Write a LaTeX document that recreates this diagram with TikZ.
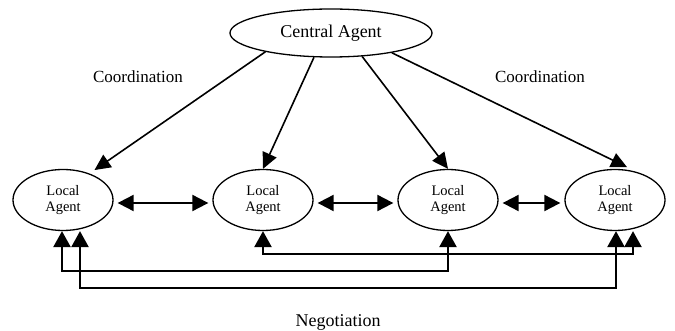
\documentclass[tikz,border=0pt]{standalone}
\usepackage{fontspec}
\setmainfont{Liberation Serif}
\usetikzlibrary{arrows.meta,shapes}
\tikzstyle{agent}=[draw=black,ellipse,line width=1.3pt,inner sep=0pt,align=center]
\tikzstyle{lbl}=[font=\fontsize{17}{19}\selectfont]

\begin{document}
\begin{tikzpicture}[x=1pt,y=-1pt,
    central/.style={agent,minimum width=202pt,minimum height=48pt,font=\fontsize{18}{20}\selectfont},
    local/.style={agent,minimum width=100pt,minimum height=61pt,font=\fontsize{14.5}{16}\selectfont},
    coord/.style={line width=1.6pt,-{Triangle[length=16pt,width=15pt]}},
    link/.style={line width=2pt,{Triangle[length=16pt,width=16pt]}-{Triangle[length=16pt,width=16pt]},shorten <=4pt,shorten >=4pt},
    nego/.style={line width=2.5pt,{Triangle[length=16pt,width=17pt]}-{Triangle[length=16pt,width=17pt]}}]
  \useasboundingbox (0,0) rectangle (675,331);
  \node[central] (ca) at (331,33) {Central Agent};
  \node[local] (la1) at (63,200) {Local\\Agent};
  \node[local] (la2) at (263,200) {Local\\Agent};
  \node[local] (la3) at (448,200) {Local\\Agent};
  \node[local] (la4) at (615,200) {Local\\Agent};
  \node[lbl] (crdl) at (138,77) {Coordination};
  \node[lbl] (crdr) at (540,77) {Coordination};
  \node[lbl,font=\fontsize{18}{20}\selectfont] (neg) at (338,322) {Negotiation};
  \draw[coord,shorten >=6pt] (ca.196) -- (la1.45);
  \draw[coord] (ca.235) -- (la2.north);
  \draw[coord] (ca.-37) -- (la3.north);
  \draw[coord,shorten >=11pt] (ca.-18) -- (la4.52);
  \draw[link] ([yshift=-3pt]la1.east) -- ([yshift=-3pt]la2.west);
  \draw[link] ([yshift=-3pt]la2.east) -- ([yshift=-3pt]la3.west);
  \draw[link] ([yshift=-3pt]la3.east) -- ([yshift=-3pt]la4.west);
  \draw[nego] ([xshift=-1pt]la1.south) -- ++(0,40) -| (la3.south);
  \draw[nego] ([xshift=17pt]la1.south) -- ++(0,57) -| ([xshift=1pt]la4.south);
  \draw[nego] (la2.south) -- ++(0,23) -| ([xshift=18pt]la4.south);
\end{tikzpicture}
\end{document}
